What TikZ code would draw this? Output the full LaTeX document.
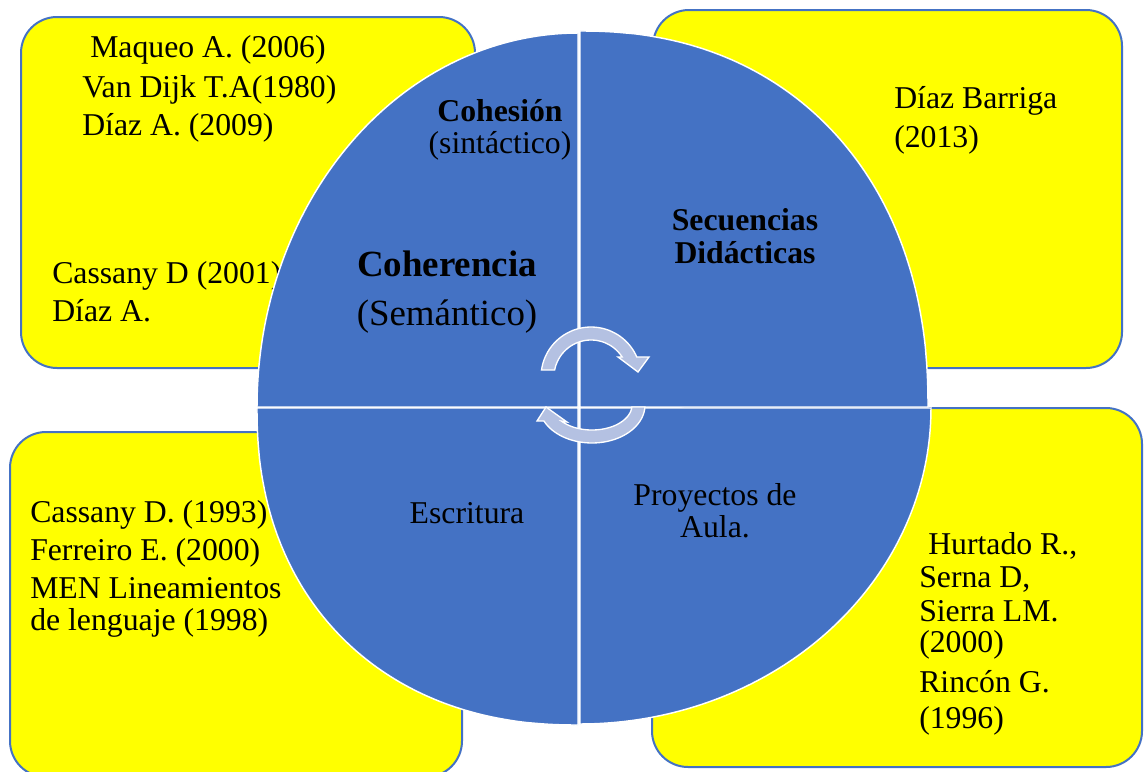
\documentclass[tikz,border=0pt]{standalone}
\usepackage{fontspec}
\setmainfont{Liberation Serif}
\definecolor{sblue}{HTML}{4472C4}
\definecolor{syel}{HTML}{FFFF00}
\definecolor{arrfill}{RGB}{180,193,226}
\tikzset{
  ybox/.style={fill=syel, draw=sblue, line width=1.5pt, rounded corners=27pt},
  sec/.style={fill=sblue, draw=white, line width=1.1pt},
  arr/.style={fill=arrfill, draw=white, line width=1pt, line join=miter},
  txt/.style={inner sep=0pt, font=\fontsize{23.8}{28}\selectfont},
  txtb/.style={txt, font=\fontsize{23.8}{28}\selectfont\bfseries},
  big/.style={inner sep=0pt, font=\fontsize{27.7}{32}\selectfont},
  bigb/.style={big, font=\fontsize{27.7}{32}\selectfont\bfseries},
}
\newcommand{\qsec}[7]{\filldraw[sec] (#1,#2) -- ({#1+(#3)*(#5)},#2) -- plot[domain=0.3:89.7,samples=90] ({#1+(#3)*(#5)*cos(\x)^(#7)},{#2+(#4)*(#6)*sin(\x)^(#7)}) -- (#1,{#2+(#4)*(#6)}) -- cycle;}
\begin{document}
\begin{tikzpicture}[x=0.75pt,y=-0.75pt]
\useasboundingbox (0,0) rectangle (1145,771);
% yellow boxes
\draw[ybox] (21,17) rectangle (475,368);
\draw[ybox] (653,10) rectangle (1122,368);
\draw[ybox] (10,432) rectangle (462,777);
\draw[ybox] (652,408) rectangle (1142,767);
% box texts
\node[txt, anchor=base west] (a1) at (90,57) {Maqueo A. (2006)};
\node[txt, anchor=base west] (a2) at (82,97) {Van Dijk T.A(1980)};
\node[txt, anchor=base west] (a3) at (82,135) {Díaz A. (2009)};
\node[txt, anchor=base west] (a4) at (52,283) {Cassany D (2001)};
\node[txt, anchor=base west] (a5) at (52,321) {Díaz A.};
\node[txt, anchor=base west] (b1) at (894,108) {Díaz Barriga};
\node[txt, anchor=base west] (b2) at (894,147) {(2013)};
\node[txt, anchor=base west] (c1) at (30,522) {Cassany D. (1993)};
\node[txt, anchor=base west] (c2) at (30,560) {Ferreiro E. (2000)};
\node[txt, anchor=base west] (c3) at (30,598) {MEN Lineamientos};
\node[txt, anchor=base west] (c4) at (30,630) {de lenguaje (1998)};
\node[txt, anchor=base west] (d1) at (928,554) {Hurtado R.,};
\node[txt, anchor=base west] (d2) at (919,587) {Serna D,};
\node[txt, anchor=base west] (d3) at (919,621) {Sierra LM.};
\node[txt, anchor=base west] (d4) at (919,652) {(2000)};
\node[txt, anchor=base west] (d5) at (919,692) {Rincón G.};
\node[txt, anchor=base west] (d6) at (919,728) {(1996)};
% circle sectors
\qsec{578}{407}{-1}{-1}{321}{374}{1}
\qsec{580}{407}{1}{-1}{348}{376}{0.909}
\qsec{578}{408}{-1}{1}{321}{317}{0.909}
\qsec{580}{408}{1}{1}{351}{316}{1}
% circular arrows
\filldraw[arr] plot[domain=188:336.4,samples=40] ({591+50*cos(\x)},{377+50*sin(\x)})
  -- (649,357) -- (638,372) -- (618,357)
  -- plot[domain=327.3:190.9,samples=40] ({591+37*cos(\x)},{377+37*sin(\x)}) -- cycle;
\filldraw[arr] plot[domain=3:155,samples=40] ({592+53*cos(\x)},{405+38*sin(\x)})
  -- (537,421) -- (546,407) -- (567,422)
  -- plot[domain=140:4.6,samples=40] ({592+40*cos(\x)},{405+25*sin(\x)}) -- cycle;
% circle texts
\node[txtb, anchor=base] (s1) at (500,121) {Cohesión};
\node[txt, anchor=base] (s2) at (500,153) {(sintáctico)};
\node[bigb, anchor=base] (s3) at (447,276) {Coherencia};
\node[big, anchor=base] (s4) at (447,325) {(Semántico)};
\node[txtb, anchor=base] (s5) at (745,230) {Secuencias};
\node[txtb, anchor=base] (s6) at (745,263) {Didácticas};
\node[txt, anchor=base] (s7) at (467,523) {Escritura};
\node[txt, anchor=base] (s8) at (715,505) {Proyectos de};
\node[txt, anchor=base] (s9) at (715,537) {Aula.};
\end{tikzpicture}
\end{document}
